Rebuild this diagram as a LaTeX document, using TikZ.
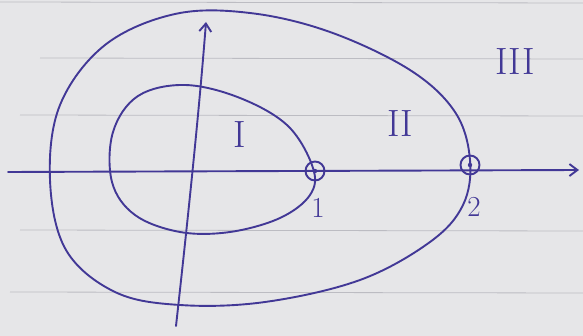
\documentclass[tikz,border=0pt]{standalone}
\usetikzlibrary{arrows.meta}
\definecolor{ink}{RGB}{66,56,150}
\definecolor{paper}{RGB}{230,230,232}
\definecolor{rule}{RGB}{188,188,194}
\begin{document}
\begin{tikzpicture}[x=1pt,y=-1pt,
  inkline/.style={draw=ink,line width=1.9pt,line cap=round,line join=round},
  axis/.style={inkline,-{Straight Barb[length=8pt,width=12pt]}},
  pt/.style={circle,draw=ink,line width=1.9pt,minimum size=19pt,inner sep=0pt},
  lbl/.style={text=ink,font=\fontsize{29}{29}\selectfont},
  roman/.style={text=ink,font=\fontsize{38}{38}\selectfont}]
\fill[paper] (0,0) rectangle (583,336);
\useasboundingbox (0,0) rectangle (583,336);
\foreach \yy/\xs in {2/0,58/40,115/20,230/20,292/10}
  \draw[rule,line width=0.8pt] (\xs,\yy) -- (583,\yy+1);
% axes
\coordinate (xl) at (8,172);
\coordinate (xr) at (579,170);
\coordinate (yb) at (176,326);
\coordinate (yt) at (206,22);
\draw[axis] (xl) -- (xr);
\draw[axis] (yb) .. controls (190,200) and (200,100) .. (yt);
% points
\node[pt] (p1) at (315,171) {};
\node[pt] (p2) at (470,165) {};
\fill[ink] (p1) circle (2.2pt);
\fill[ink] (p2) circle (2.2pt);
% inner curve
\draw[inkline] plot[smooth cycle,tension=0.6] coordinates {
  (313,168) (288,126) (240,98) (185,85) (138,96) (113,132) (112,182)
  (135,215) (180,232) (230,232) (280,218) (310,195)};
% outer curve
\draw[inkline] plot[smooth cycle,tension=0.6] coordinates {
  (470,160) (455,112) (410,70) (330,32) (250,13) (175,14) (105,45)
  (60,105) (50,180) (66,250) (115,292) (180,305) (265,302) (360,280)
  (430,242) (463,205)};
% labels
\node[lbl] (l1) at (318,208) {1};
\node[lbl] (l2) at (474,207) {2};
\node[roman] (r1) at (240,135) {I};
\node[roman] (r2) at (400,124) {II};
\node[roman] (r3) at (515,62) {III};
\end{tikzpicture}
\end{document}
